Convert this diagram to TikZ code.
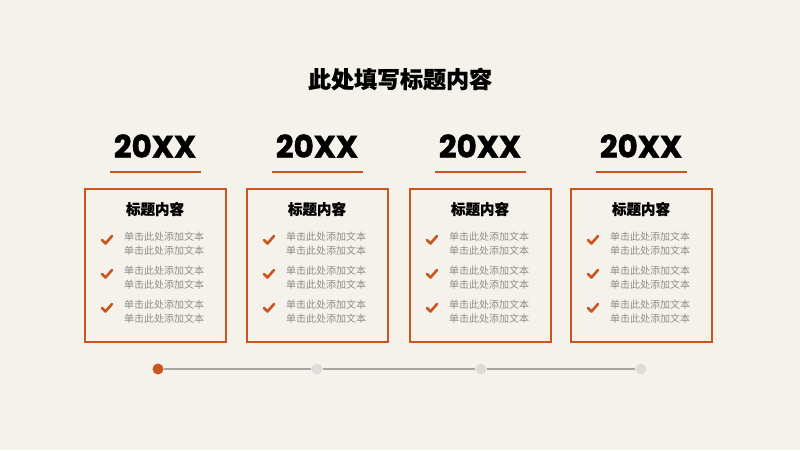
\documentclass[tikz,border=0pt]{standalone}
\usepackage{fontspec}
\usetikzlibrary{positioning}
\newfontfamily\cjk{Noto Sans CJK SC}[BoldFeatures={FakeBold=0.6}]
\newfontfamily\yearfont{Poppins}[BoldFeatures={FakeBold=1.6}]
\definecolor{bgcream}{HTML}{F5F2EC}
\definecolor{rust}{HTML}{C8561E}
\definecolor{greytext}{HTML}{8E8C89}
\definecolor{dotgrey}{HTML}{DDDCDA}
\definecolor{linegrey}{HTML}{A9A49D}

\tikzset{
  card/.style={rectangle, draw=rust, line width=2pt, minimum width=141pt, minimum height=153pt},
  yearlabel/.style={font=\yearfont\bfseries\fontsize{31}{31}\selectfont},
  cardtitle/.style={font=\cjk\bfseries\fontsize{14.5}{16}\selectfont},
  itemtext/.style={font=\cjk\fontsize{10}{14}\selectfont, text=greytext, align=left, anchor=west, inner sep=0pt},
  tick/.style={draw=rust, line width=2.6pt, line cap=round, line join=round},
  dot/.style={circle, inner sep=0pt, minimum size=11pt, fill=dotgrey},
}

\begin{document}
\begin{tikzpicture}[x=1pt, y=-1pt]
    \fill [bgcream] (0,0) rectangle (800,450);
    \useasboundingbox (0,0) rectangle (800,450);

    \node (title) at (400,79) [font=\cjk\bfseries\fontsize{23}{23}\selectfont] {此处填写标题内容};

    % four cards
    \foreach \i/\cx in {1/155,2/317,3/480,4/641} {
        \node (year\i) at (\cx,146) [yearlabel] {20XX};
        \draw [rust, line width=1.4pt] (\cx-45,172) -- (\cx+46,172);
        \node (card\i) at (\cx,265) [card] {};
        \node (head\i) at (\cx,209) [cardtitle] {标题内容};
        \foreach \j/\yy in {1/244,2/278,3/312} {
            \draw [tick] (\cx-53,\yy-4) -- (\cx-49.5,\yy-0.5) -- (\cx-43,\yy-8);
            \node (item\i\j) at (\cx-31,\yy) [itemtext] {单击此处添加文本\\单击此处添加文本};
        }
    }

    % timeline
    \node (dot1) at (158,369) [dot, fill=rust] {};
    \node (dot2) at (317,369) [dot] {};
    \node (dot3) at (481,369) [dot] {};
    \node (dot4) at (641,369) [dot] {};
    \draw [linegrey, line width=1.2pt] (dot1) -- (dot2);
    \draw [linegrey, line width=1.2pt] (dot2) -- (dot3);
    \draw [linegrey, line width=1.2pt] (dot3) -- (dot4);
\end{tikzpicture}
\end{document}
